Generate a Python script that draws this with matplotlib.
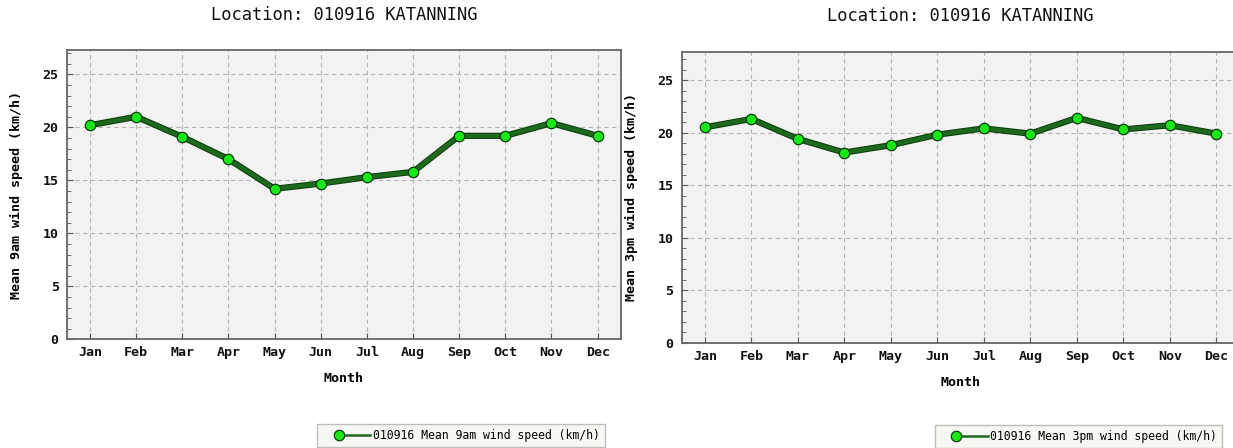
import numpy as np
import matplotlib
matplotlib.use("Agg")
import matplotlib.pyplot as plt
import matplotlib.patheffects as pe
from matplotlib.legend_handler import HandlerBase
from matplotlib.lines import Line2D
from matplotlib.ticker import MultipleLocator

months = ['Jan', 'Feb', 'Mar', 'Apr', 'May', 'Jun',
          'Jul', 'Aug', 'Sep', 'Oct', 'Nov', 'Dec']
wind_9am = [20.2, 21.0, 19.1, 17.0, 14.2, 14.7, 15.3, 15.8, 19.2, 19.2, 20.4, 19.2]
wind_3pm = [20.5, 21.3, 19.4, 18.1, 18.8, 19.8, 20.4, 19.9, 21.4, 20.3, 20.7, 19.9]
title = 'Location: 010916 KATANNING'
label_9am = '010916 Mean 9am wind speed (km/h)'
label_3pm = '010916 Mean 3pm wind speed (km/h)'

W, H = 1233, 448
MONO = 'DejaVu Sans Mono'
LINE_C = '#1d691d'
EDGE_C = '#0b3d0b'
MARK_C = '#18e818'


class LeftMarker(HandlerBase):
    # marker sits at the left end of the legend line, like the original
    def create_artists(self, legend, orig_handle, xdescent, ydescent,
                       width, height, fontsize, trans):
        off = 11.8
        y = height / 2 - ydescent
        line = Line2D([-xdescent + off, -xdescent + width], [y, y],
                      color=LINE_C, lw=1.8)
        mark = Line2D([-xdescent + off], [y], ls='none', marker='o', ms=7.5,
                      mfc=MARK_C, mec=EDGE_C, mew=0.9)
        line.set_transform(trans)
        mark.set_transform(trans)
        return [line, mark]


def panel(fig, rect_px, values, ylabel, ytop, ylab_x, title_y, label_y, leg_px, leg_label):
    x0, y0, x1, y1 = rect_px
    ax = fig.add_axes([x0 / W, 1 - y1 / H, (x1 - x0) / W, (y1 - y0) / H])
    ax.set_facecolor('#f2f2f2')
    x = np.arange(len(months))
    ax.plot(x, values, color=LINE_C, lw=3, zorder=3,
            path_effects=[pe.Stroke(linewidth=4.5, foreground=EDGE_C), pe.Normal()])
    ax.plot(x, values, ls='none', marker='o', ms=7.5, mfc=MARK_C,
            mec=EDGE_C, mew=0.9, zorder=4)
    ax.set_xlim(-0.5, 11.5)
    ax.set_ylim(0, ytop)
    ax.set_xticks(x)
    ax.set_xticklabels(months)
    ax.yaxis.set_major_locator(MultipleLocator(5))
    ax.yaxis.set_minor_locator(MultipleLocator(1))
    ax.tick_params(which='both', direction='in', colors='#555555',
                   labelcolor='#111111', labelsize=9.6)
    ax.tick_params(axis='y', which='major', length=4, pad=6)
    ax.tick_params(axis='y', which='minor', length=3)
    ax.tick_params(axis='x', which='major', length=4, pad=5)
    for lab in ax.get_xticklabels() + ax.get_yticklabels():
        lab.set_family(MONO)
        lab.set_fontweight('bold')
    ax.grid(True, which='major', color='#b4b4b4', ls=(0, (4, 3)), lw=0.8)
    ax.set_axisbelow(True)
    for s in ax.spines.values():
        s.set_color('#666666')
        s.set_linewidth(1.3)
    ax.set_xlabel('Month', family=MONO, fontweight='bold', fontsize=9.6)
    ax.xaxis.set_label_coords(0.5, -(label_y - y1) / (y1 - y0))
    ax.xaxis.label.set_va('center')
    ax.set_ylabel(ylabel, family=MONO, fontweight='bold', fontsize=9.6)
    ax.yaxis.set_label_coords((ylab_x - x0) / (x1 - x0), 0.5)
    ax.yaxis.label.set_va('center')
    fig.text(((x0 + x1) / 2) / W, 1 - title_y / H, title, family=MONO,
             fontsize=12.3, ha='center', va='center', color='#111111')

    leg = fig.legend([Line2D([], [])], [leg_label], loc='upper left',
                     bbox_to_anchor=(leg_px[0] / W, 1 - leg_px[1] / H),
                     handler_map={Line2D: LeftMarker()},
                     prop={'family': MONO, 'size': 8.3},
                     handlelength=4.17, handletextpad=0.2, borderpad=0.45,
                     borderaxespad=0, fancybox=False, framealpha=1,
                     edgecolor='#bdbdbd', facecolor='#f7f7f3')
    leg.get_frame().set_linewidth(1.0)
    return ax


fig = plt.figure(figsize=(W / 100, H / 100), dpi=100)
fig.patch.set_facecolor('white')

# pixel rectangles (left, top, right, bottom)
ax1 = panel(fig, (67, 50, 620.7, 339.3), wind_9am, 'Mean 9am wind speed (km/h)',
            27.3, 16, 15, 378, (317, 424), label_9am)
ax2 = panel(fig, (681.6, 51.7, 1239.6, 342.7), wind_3pm, 'Mean 3pm wind speed (km/h)',
            27.7, 631, 16, 382, (934.7, 425), label_3pm)

fig.savefig('out.png', dpi=100)
